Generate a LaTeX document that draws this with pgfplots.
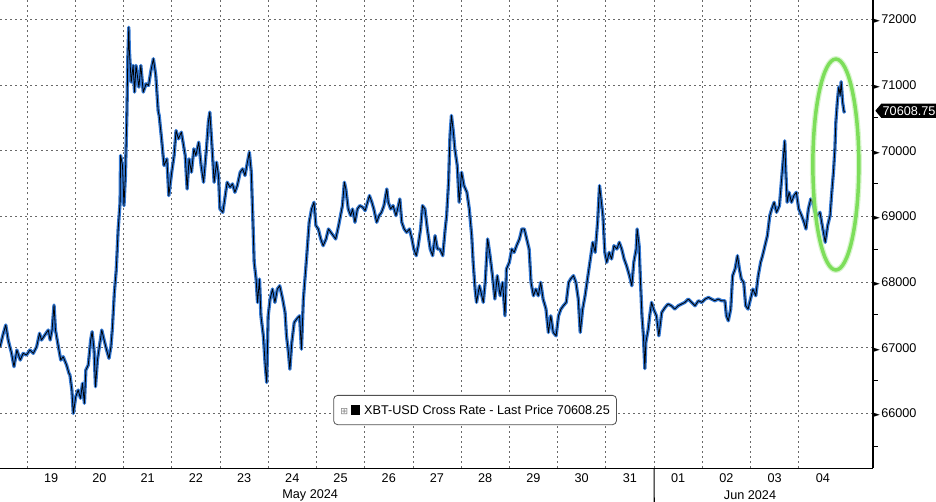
\documentclass[border=0pt]{standalone}
\usepackage{pgfplots}
\pgfplotsset{compat=1.18}
\usepackage{pgfplotstable}
\usepackage{fontspec}
\setmainfont{Liberation Sans}
\newfontfamily\dejavu{DejaVu Sans}
\usetikzlibrary{shapes.symbols}

\definecolor{bbblue}{RGB}{52,120,210}
\definecolor{gridc}{RGB}{105,105,105}
\definecolor{ellgreen}{RGB}{125,222,90}
\newcommand{\tickfont}{\fontsize{9.5}{11}\selectfont}
\newcommand{\tri}{{\dejavu\fontsize{6.5}{6.5}\selectfont\char"25BA}\hspace{1pt}}

\pgfplotstableread{
day price
-0.56 67014
-0.49 67218
-0.44 67344
-0.39 67116
-0.32 66913
-0.27 66710
-0.21 66964
-0.14 66811
-0.08 66913
-0.01 66887
0.06 66964
0.13 66913
0.20 67014
0.26 67218
0.30 67116
0.37 67192
0.44 67268
0.48 67116
0.52 67268
0.56 67649
0.59 67268
0.65 67014
0.70 66811
0.75 66862
0.82 66735
0.87 66608
0.89 66583
0.93 66354
0.96 65999
1.01 66252
1.06 66354
1.11 66228
1.15 66456
1.19 66152
1.22 66659
1.27 66735
1.32 67116
1.35 67242
1.39 66964
1.42 66405
1.46 66811
1.50 67014
1.55 67268
1.59 67141
1.65 66964
1.70 66837
1.74 67014
1.77 67294
1.81 67827
1.85 68182
1.87 68487
1.89 68807
1.93 69214
1.94 69926
1.98 69773
2.01 69163
2.04 69621
2.07 70536
2.09 71400
2.11 71880
2.12 71553
2.16 71044
2.20 71298
2.23 70892
2.26 71298
2.32 70968
2.36 71298
2.41 70892
2.47 71019
2.52 70993
2.57 71222
2.62 71400
2.67 71146
2.72 70600
2.74 70536
2.79 70180
2.84 69773
2.90 69875
2.94 69316
3.00 69672
3.05 69926
3.09 70307
3.14 70180
3.20 70282
3.28 69926
3.32 69417
3.36 69875
3.41 69672
3.46 70027
3.50 69926
3.56 70129
3.61 69773
3.66 69519
3.72 70027
3.76 70434
3.79 70587
3.83 70129
3.88 69519
3.93 69824
3.97 69621
4.00 69112
4.06 69061
4.11 69316
4.15 69519
4.21 69443
4.26 69494
4.31 69366
4.36 69468
4.42 69672
4.47 69723
4.52 69621
4.57 69824
4.61 69977
4.65 69672
4.68 69011
4.71 68299
4.75 68045
4.78 67689
4.82 68045
4.85 67485
4.90 67180
4.94 66723
4.97 66469
5.00 67485
5.04 67740
5.09 67892
5.14 67689
5.19 67892
5.24 67943
5.30 67740
5.35 67536
5.38 67180
5.42 66926
5.45 66672
5.49 67079
5.54 67384
5.59 67435
5.65 67485
5.69 66977
5.73 67740
5.80 68401
5.85 68909
5.90 69112
5.95 69214
5.99 68858
6.04 68807
6.09 68655
6.14 68553
6.20 68655
6.25 68807
6.30 68756
6.35 68706
6.40 68655
6.46 68858
6.50 69011
6.54 69163
6.58 69519
6.61 69417
6.66 69112
6.71 69011
6.75 69112
6.80 68909
6.85 69112
6.90 69163
6.96 69138
7.01 69087
7.06 69214
7.10 69316
7.15 69214
7.19 69112
7.25 68909
7.30 69011
7.35 69061
7.40 69163
7.46 69417
7.49 69214
7.54 69112
7.59 69163
7.65 69011
7.70 69163
7.73 69265
7.77 68909
7.82 68807
7.87 68756
7.93 68807
7.98 68655
8.02 68502
8.07 68401
8.11 68553
8.16 68807
8.20 69163
8.25 69112
8.30 68807
8.36 68502
8.41 68401
8.46 68706
8.51 68502
8.56 68502
8.62 68401
8.67 68807
8.70 69011
8.74 69519
8.77 70231
8.80 70536
8.84 70282
8.87 70027
8.92 69773
8.96 69214
9.01 69672
9.06 69468
9.12 69366
9.17 69112
9.22 68706
9.25 68299
9.29 67892
9.32 67689
9.38 67943
9.43 67790
9.46 67689
9.50 67994
9.55 68655
9.60 68401
9.65 68096
9.70 67740
9.75 68096
9.81 67790
9.86 67994
9.91 67485
9.94 68197
10.00 68299
10.05 68502
10.10 68451
10.15 68553
10.21 68655
10.26 68807
10.31 68807
10.36 68655
10.41 68502
10.45 67994
10.50 67790
10.55 67892
10.60 67790
10.65 67994
10.70 67740
10.76 67587
10.81 67231
10.86 67485
10.91 67231
10.97 67180
11.02 67485
11.07 67587
11.12 67638
11.18 67689
11.23 67994
11.27 68045
11.33 68096
11.38 67994
11.43 67740
11.47 67231
11.52 67587
11.57 67790
11.62 68045
11.67 68299
11.73 68604
11.78 68451
11.83 68909
11.87 69468
11.94 69011
11.98 68451
12.02 68299
12.07 68451
12.12 68350
12.17 68553
12.23 68502
12.28 68604
12.33 68502
12.38 68350
12.43 68248
12.49 68096
12.54 67943
12.58 68299
12.63 68502
12.65 68807
12.69 68553
12.72 67994
12.75 67485
12.78 67180
12.81 66680
12.83 67079
12.88 67282
12.91 67485
12.95 67689
12.99 67587
13.05 67485
13.10 67180
13.16 67536
13.23 67613
13.29 67664
13.36 67638
13.43 67587
13.50 67638
13.57 67664
13.64 67689
13.71 67740
13.78 67689
13.85 67638
13.92 67714
13.99 67689
14.06 67740
14.13 67765
14.19 67740
14.26 67714
14.33 67740
14.40 67714
14.47 67714
14.50 67485
14.54 67409
14.59 67587
14.63 68096
14.68 68197
14.73 68401
14.77 68197
14.81 68045
14.86 67994
14.90 67638
14.95 67587
15.00 67740
15.05 67892
15.11 67790
15.16 68096
15.21 68299
15.25 68401
15.30 68553
15.35 68706
15.40 69011
15.44 69112
15.49 69214
15.54 69061
15.60 69163
15.64 69519
15.68 69875
15.71 70150
15.73 69723
15.76 69214
15.80 69366
15.85 69214
15.90 69316
15.95 69366
16.00 69112
16.06 69011
16.11 68909
16.15 68807
16.20 69112
16.25 69265
16.29 69214
16.34 69061
16.39 69011
16.44 69061
16.50 68807
16.55 68604
16.60 68858
16.65 69011
16.68 69316
16.72 69672
16.75 70027
16.77 70434
16.80 70739
16.83 70968
16.86 70841
16.88 71050
16.91 70739
16.94 70587
16.95 70608
}\xbt

\begin{document}
\begin{tikzpicture}
\begin{axis}[
  at={(0,0)}, anchor=north west,
  scale only axis, width=654.75pt, height=351pt,
  xmin=-0.56, xmax=17.54, ymin=65166, ymax=72294,
  clip=false,
  axis x line*=bottom, axis y line*=right,
  axis line style={black, line width=0.8pt},
  /pgf/number format/assume math mode=true,
  xtick={0,...,16}, xticklabels={},
  extra x ticks={0.5,1.5,...,16.5},
  extra x tick labels={19,20,21,22,23,24,25,26,27,28,29,30,31,01,02,03,04},
  extra x tick style={grid=none, major tick length=0pt,
     xticklabel style={font=\tickfont, anchor=center, yshift=-7.5pt}},
  xmajorgrids, ymajorgrids,
  major grid style={gridc, line width=0.5pt, dash pattern=on 1.5pt off 2.3pt},
  ytick={66000,67000,68000,69000,70000,71000,72000},
  yticklabels={\tri66000,\tri67000,\tri68000,\tri69000,\tri70000,\tri71000,\tri72000},
  minor ytick={65500,66500,67500,68500,69500,70500,71500},
  major tick length=0pt, minor tick length=3.5pt, tick align=outside,
  minor tick style={black, line width=0.6pt},
  yticklabel style={font=\tickfont, anchor=west, inner xsep=0pt, xshift=0pt},
]
\addplot[bbblue, line width=2.5pt, line join=round] table[x=day,y=price]{\xbt};
\addplot[black, line width=0.6pt, line join=round] table[x=day,y=price]{\xbt};

\draw[ellgreen!60, line width=4.5pt, opacity=0.5] (axis cs:16.77,69789) ellipse [x radius=17.25pt, y radius=79.1pt];
\draw[ellgreen, line width=2.6pt] (axis cs:16.77,69789) ellipse [x radius=17.25pt, y radius=79.1pt];

\node[draw={rgb,255:red,80;green,80;blue,80}, rounded corners=3pt, fill=white, line width=0.6pt,
      inner xsep=5pt, minimum height=22pt, font=\tickfont]
  at (axis cs:9.29,66050)
  {{\dejavu\fontsize{7}{7}\selectfont\color{gray}\char"229E}\hspace{2pt}\rule[-0.5pt]{7pt}{7.5pt}\hspace{3pt}XBT-USD Cross Rate - Last Price 70608.25};

\node[signal, signal to=west, signal pointer angle=100, fill=black, text=white,
      inner xsep=1pt, inner ysep=2pt, anchor=west, font=\tickfont]
  at (axis cs:17.54,70608) [xshift=1.5pt] {70608.75};

\draw[black, line width=0.8pt] (axis cs:13,65166) -- ++(0,-26pt);
\node[font=\tickfont] at (axis cs:5.87,65166) [yshift=-20.25pt] {May 2024};
\node[font=\tickfont] at (axis cs:14.99,65166) [yshift=-20.25pt] {Jun 2024};
\end{axis}
\pgfresetboundingbox
\path (0,0) rectangle (702pt,-375.75pt);
\end{tikzpicture}
\end{document}
